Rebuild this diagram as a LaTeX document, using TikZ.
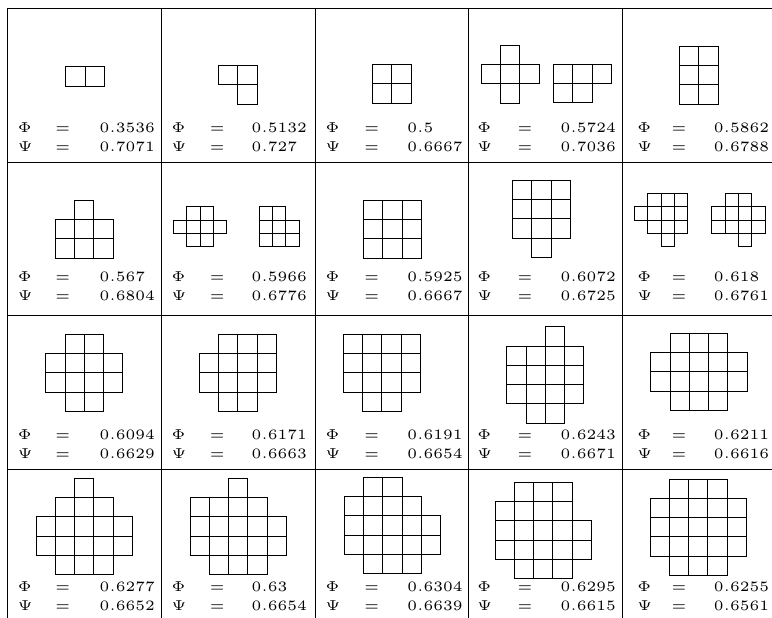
\documentclass[tikz,border=0pt]{standalone}

\newcommand\polyo[4]{% left, top, unit, cells
  \foreach \c/\r in {#4} \draw[cellsq] ({#1+\c*#3},{#2+\r*#3}) rectangle ++(#3,#3);}

\begin{document}
\begin{tikzpicture}[x=0.75pt, y=-0.75pt,
  rule/.style={line width=0.6pt},
  cellsq/.style={draw, line width=0.6pt},
  val/.style={inner sep=0pt, scale=2.15, font=\fontsize{5}{6}\selectfont, anchor=base west},
  eqsign/.style={inner sep=0pt, scale=2.15, font=\fontsize{5}{6}\selectfont, anchor=base}]

\useasboundingbox (0,0) rectangle (772,618);
\clip (0,0) rectangle (772,618);

% table rules
\foreach \y in {8,162,315.3,469,623} \draw[rule] (7,\y) -- (776.5,\y);
\foreach \x in {7,161,315,468.5,622.5,776.5} \draw[rule] (\x,8) -- (\x,623);

% row 1
\polyo{65.7}{66.7}{19.3}{0/0,1/0}
\polyo{218.3}{65.3}{19.3}{0/0,1/0,1/1}
\polyo{372.3}{64.3}{19.3}{0/0,1/0,0/1,1/1}
\polyo{481}{45}{19.3}{1/0,0/1,1/1,2/1,1/2}
\polyo{553.3}{64}{19.3}{0/0,1/0,2/0,0/1,1/1}
\polyo{679.3}{46}{19.3}{0/0,1/0,0/1,1/1,0/2,1/2}

% row 2
\polyo{55}{200}{19.3}{1/0,0/1,1/1,2/1,0/2,1/2,2/2}
\polyo{173.3}{206.7}{13.3}{1/0,2/0,0/1,1/1,2/1,3/1,1/2,2/2}
\polyo{259}{206.7}{13.3}{0/0,1/0,0/1,1/1,2/1,0/2,1/2,2/2}
\polyo{363.3}{200}{19.3}{0/0,1/0,2/0,0/1,1/1,2/1,0/2,1/2,2/2}
\polyo{512.3}{180}{19.3}{0/0,1/0,2/0,0/1,1/1,2/1,0/2,1/2,2/2,1/3}
\polyo{634.3}{193.3}{13.3}{1/0,2/0,3/0,0/1,1/1,2/1,3/1,1/2,2/2,3/2,2/3}
\polyo{711.7}{193.3}{13.3}{1/0,2/0,0/1,1/1,2/1,3/1,0/2,1/2,2/2,3/2,2/3}

% row 3
\polyo{45.7}{334.3}{19.25}{1/0,2/0,0/1,1/1,2/1,3/1,0/2,1/2,2/2,3/2,1/3,2/3}
\polyo{199.3}{334.3}{19.25}{1/0,2/0,3/0,0/1,1/1,2/1,3/1,0/2,1/2,2/2,3/2,1/3,2/3}
\polyo{343.3}{334.3}{19.25}{0/0,1/0,2/0,3/0,0/1,1/1,2/1,3/1,0/2,1/2,2/2,3/2,1/3,2/3}
\polyo{506.7}{326.7}{19.25}{2/0,0/1,1/1,2/1,3/1,0/2,1/2,2/2,3/2,0/3,1/3,2/3,3/3,1/4,2/4}
\polyo{650.7}{333.3}{19.25}{1/0,2/0,3/0,0/1,1/1,2/1,3/1,4/1,0/2,1/2,2/2,3/2,4/2,1/3,2/3,3/3}

% row 4
\polyo{36}{478.3}{19.25}{2/0,1/1,2/1,3/1,0/2,1/2,2/2,3/2,4/2,0/3,1/3,2/3,3/3,4/3,1/4,2/4,3/4}
\polyo{190}{478.3}{19.25}{2/0,0/1,1/1,2/1,3/1,0/2,1/2,2/2,3/2,4/2,0/3,1/3,2/3,3/3,4/3,1/4,2/4,3/4}
\polyo{344.3}{477.3}{19.25}{1/0,2/0,0/1,1/1,2/1,3/1,0/2,1/2,2/2,3/2,4/2,0/3,1/3,2/3,3/3,4/3,1/4,2/4,3/4}
\polyo{495}{482.3}{19.25}{1/0,2/0,3/0,0/1,1/1,2/1,3/1,0/2,1/2,2/2,3/2,4/2,0/3,1/3,2/3,3/3,4/3,1/4,2/4,3/4}
\polyo{650}{479}{19.25}{1/0,2/0,3/0,0/1,1/1,2/1,3/1,4/1,0/2,1/2,2/2,3/2,4/2,0/3,1/3,2/3,3/3,4/3,1/4,2/4,3/4}

% values
\foreach \c/\r/\p/\q in {1/1/0.3536/0.7071, 2/1/0.5132/0.727, 3/1/0.5/0.6667, 4/1/0.5724/0.7036, 5/1/0.5862/0.6788,
    1/2/0.567/0.6804, 2/2/0.5966/0.6776, 3/2/0.5925/0.6667, 4/2/0.6072/0.6725, 5/2/0.618/0.6761,
    1/3/0.6094/0.6629, 2/3/0.6171/0.6663, 3/3/0.6191/0.6654, 4/3/0.6243/0.6671, 5/3/0.6211/0.6616,
    1/4/0.6277/0.6652, 2/4/0.63/0.6654, 3/4/0.6304/0.6639, 4/4/0.6295/0.6615, 5/4/0.6255/0.6561}{
  \pgfmathsetmacro\phix{{17.3,171,325,476.7,636.7}[\c-1]}
  \pgfmathsetmacro\eqx{{62.8,217.2,371.7,525,679}[\c-1]}
  \pgfmathsetmacro\numx{{99,251,406.7,560,713.3}[\c-1]}
  \pgfmathsetmacro\basey{{132.3,281.3,439.6,591.3}[\r-1]}
  \node[val] (phi-\c-\r) at (\phix,\basey) {$\Phi$};
  \node[eqsign] (eqa-\c-\r) at (\eqx,\basey) {$=$};
  \node[val] (phv-\c-\r) at (\numx,\basey) {$\p$};
  \node[val] (psi-\c-\r) at (\phix,\basey+19) {$\Psi$};
  \node[eqsign] (eqb-\c-\r) at (\eqx,\basey+19) {$=$};
  \node[val] (psv-\c-\r) at (\numx,\basey+19) {$\q$};
}
\end{tikzpicture}
\end{document}
